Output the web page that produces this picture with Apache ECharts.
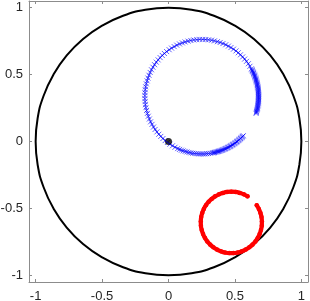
<!DOCTYPE html>
<html><head><meta charset="utf-8">
<script src="https://cdn.jsdelivr.net/npm/echarts@6.0.0/dist/echarts.min.js"></script>
<style>html,body{margin:0;padding:0;background:#fff}#c{width:310px;height:301px}</style>
</head><body><div id="c"></div>
<script>
const tickValues = [-1, -0.5, 0, 0.5, 1];

const circleX = [0.985,1,0.985,0.940,0.866,0.766,0.643,0.5,0.342,0.174,0,-0.174,-0.342,-0.5,-0.643,-0.766,-0.866,-0.940,-0.985,-1,-0.985,-0.940,-0.866,-0.766,-0.643,-0.5,-0.342,-0.174,0,0.174,0.342,0.5,0.643,0.766,0.866,0.940,0.985,1,0.985];
const circleY = [-0.174,0,0.174,0.342,0.5,0.643,0.766,0.866,0.940,0.985,1,0.985,0.940,0.866,0.766,0.643,0.5,0.342,0.174,0,-0.174,-0.342,-0.5,-0.643,-0.766,-0.866,-0.940,-0.985,-1,-0.985,-0.940,-0.866,-0.766,-0.643,-0.5,-0.342,-0.174,0,0.174];

const blueX = [
0.659,0.661,0.663,0.665,0.667,0.669,0.670,0.672,0.673,0.674,0.675,0.676,0.676,0.677,0.677,0.678,0.678,0.678,0.678,0.678,0.677,0.677,0.676,0.676,0.675,0.674,0.673,0.672,0.670,0.669,0.667,0.665,0.663,0.661,0.659,0.657,0.655,0.652,0.650,0.647,0.644,0.641,0.638,0.635,0.631,0.628,0.624,
0.613,0.601,0.587,0.573,0.558,0.542,0.525,0.508,0.489,0.470,0.451,0.431,0.410,0.389,
0.368,0.346,0.324,0.302,0.280,0.258,0.235,0.213,0.190,0.168,0.147,0.125,0.104,0.083,0.062,0.043,0.023,0.005,-0.014,-0.031,-0.047,-0.063,-0.078,-0.092,-0.105,-0.117,-0.128,-0.138,-0.147,-0.155,-0.161,-0.167,-0.172,-0.175,-0.177,-0.178,-0.178,-0.176,-0.174,-0.170,-0.165,-0.159,-0.152,-0.144,-0.135,-0.124,-0.113,-0.101,-0.087,-0.073,-0.058,-0.042,-0.025,-0.008,0.011,0.030,0.049,0.069,
0.083,0.097,0.111,0.125,0.139,0.154,0.168,0.183,0.198,0.213,0.228,0.243,0.258,0.272,0.287,0.302,0.317,0.332,
0.339,0.346,0.354,0.361,0.368,0.375,0.382,0.389,0.396,0.403,0.410,0.417,0.424,0.431,0.438,0.444,0.451,0.458,0.464,0.470,0.477,0.483,0.489,0.496,0.502,0.508,0.514,0.519,0.525,0.531,0.536,0.542,0.547,0.553,0.558,0.563];
const blueY = [
0.210,0.217,0.224,0.232,0.239,0.246,0.253,0.261,0.268,0.275,0.283,0.290,0.298,0.305,0.313,0.320,0.328,0.335,0.342,0.350,0.357,0.365,0.372,0.380,0.387,0.395,0.402,0.409,0.417,0.424,0.431,0.439,0.446,0.453,0.460,0.467,0.474,0.481,0.488,0.495,0.502,0.509,0.516,0.523,0.529,0.536,0.543,
0.562,0.581,0.599,0.616,0.632,0.648,0.663,0.677,0.690,0.702,0.713,0.723,0.732,0.740,
0.746,0.752,0.757,0.760,0.762,0.763,0.763,0.761,0.759,0.755,0.750,0.744,0.737,0.729,0.720,0.709,0.698,0.686,0.672,0.658,0.643,0.627,0.610,0.593,0.574,0.555,0.536,0.516,0.495,0.474,0.453,0.431,0.409,0.387,0.365,0.343,0.320,0.298,0.275,0.253,0.232,0.210,0.189,0.168,0.147,0.128,0.108,0.090,0.072,0.054,0.038,0.022,0.007,-0.007,-0.020,-0.032,-0.043,-0.053,
-0.059,-0.065,-0.070,-0.074,-0.078,-0.082,-0.085,-0.088,-0.090,-0.091,-0.093,-0.093,-0.093,-0.093,-0.091,-0.090,-0.088,-0.085,
-0.084,-0.082,-0.080,-0.078,-0.076,-0.074,-0.072,-0.070,-0.067,-0.065,-0.062,-0.059,-0.056,-0.053,-0.050,-0.046,-0.043,-0.039,-0.036,-0.032,-0.028,-0.024,-0.020,-0.016,-0.011,-0.007,-0.002,0.002,0.007,0.012,0.017,0.022,0.027,0.032,0.038,0.043];

const redX = [0.595,0.567,0.536,0.505,0.473,0.441,0.410,0.380,0.351,0.325,0.302,0.282,0.266,0.254,0.246,0.243,0.244,0.250,0.260,0.274,0.292,0.313,0.338,0.365,0.394,0.425,0.457,0.489,0.521,0.552,0.581,0.608,0.633,0.654,0.672,0.686,0.696,0.702,0.703,0.700,0.692,0.680,0.664];
const redY = [-0.410,-0.395,-0.384,-0.377,-0.375,-0.377,-0.384,-0.395,-0.410,-0.429,-0.451,-0.476,-0.504,-0.534,-0.565,-0.597,-0.629,-0.661,-0.691,-0.720,-0.747,-0.770,-0.791,-0.808,-0.821,-0.830,-0.834,-0.834,-0.830,-0.821,-0.808,-0.791,-0.770,-0.747,-0.720,-0.691,-0.661,-0.629,-0.597,-0.565,-0.534,-0.504,-0.476];

const originX = [0];
const originY = [0];

function zip(a, b) { return a.map((v, i) => [v, b[i]]); }

const axisColor = '#8c8c8c';
const labelColor = '#262626';
const font = "'Liberation Sans', Arial, sans-serif";

function xAx(pos, showLabel) {
  return {
    type: 'value', min: -1.05, max: 1.05, position: pos,
    axisLine: { show: true, onZero: false, lineStyle: { color: axisColor, width: 1 } },
    axisTick: { show: true, inside: true, length: 3, customValues: tickValues, lineStyle: { color: axisColor } },
    axisLabel: { show: showLabel, customValues: tickValues, color: labelColor, fontSize: 13, fontFamily: font, margin: 8 },
    splitLine: { show: false }
  };
}
function yAx(pos, showLabel) {
  return {
    type: 'value', min: -1.05, max: 1.05, position: pos,
    axisLine: { show: true, onZero: false, lineStyle: { color: axisColor, width: 1 } },
    axisTick: { show: true, inside: true, length: 3, customValues: tickValues, lineStyle: { color: axisColor } },
    axisLabel: { show: showLabel, customValues: tickValues, color: labelColor, fontSize: 13, fontFamily: font, margin: 6 },
    splitLine: { show: false }
  };
}

const chart = echarts.init(document.getElementById('c'), null, { renderer: 'canvas' });
chart.setOption({
  animation: false,
  grid: { left: 29, right: 2, top: 1, bottom: 19, outerBoundsMode: 'none' },
  xAxis: [xAx('bottom', true), xAx('top', false)],
  yAxis: [yAx('left', true), yAx('right', false)],
  series: [
    { type: 'line', data: zip(circleX, circleY), smooth: true, showSymbol: false, silent: true,
      lineStyle: { color: '#000', width: 2 } },
    { type: 'line', data: zip(blueX, blueY), showSymbol: false, silent: true,
      lineStyle: { color: '#0000ff', width: 0.7 } },
    { type: 'scatter', data: zip(blueX, blueY), symbol: 'path://M0,0L10,10M10,0L0,10', symbolSize: 5, silent: true,
      itemStyle: { color: 'transparent', borderColor: '#0000ff', borderWidth: 0.8 } },
    { type: 'line', data: zip(redX, redY), smooth: true, showSymbol: true, showAllSymbol: true, symbol: 'circle', symbolSize: 4.5, silent: true,
      itemStyle: { color: '#ff0000' }, lineStyle: { color: '#ff0000', width: 4.2, cap: 'round' } },
    { type: 'scatter', data: zip(originX, originY), symbol: 'circle', symbolSize: 7, silent: true,
      itemStyle: { color: '#000' } }
  ]
});
</script>
</body></html>
